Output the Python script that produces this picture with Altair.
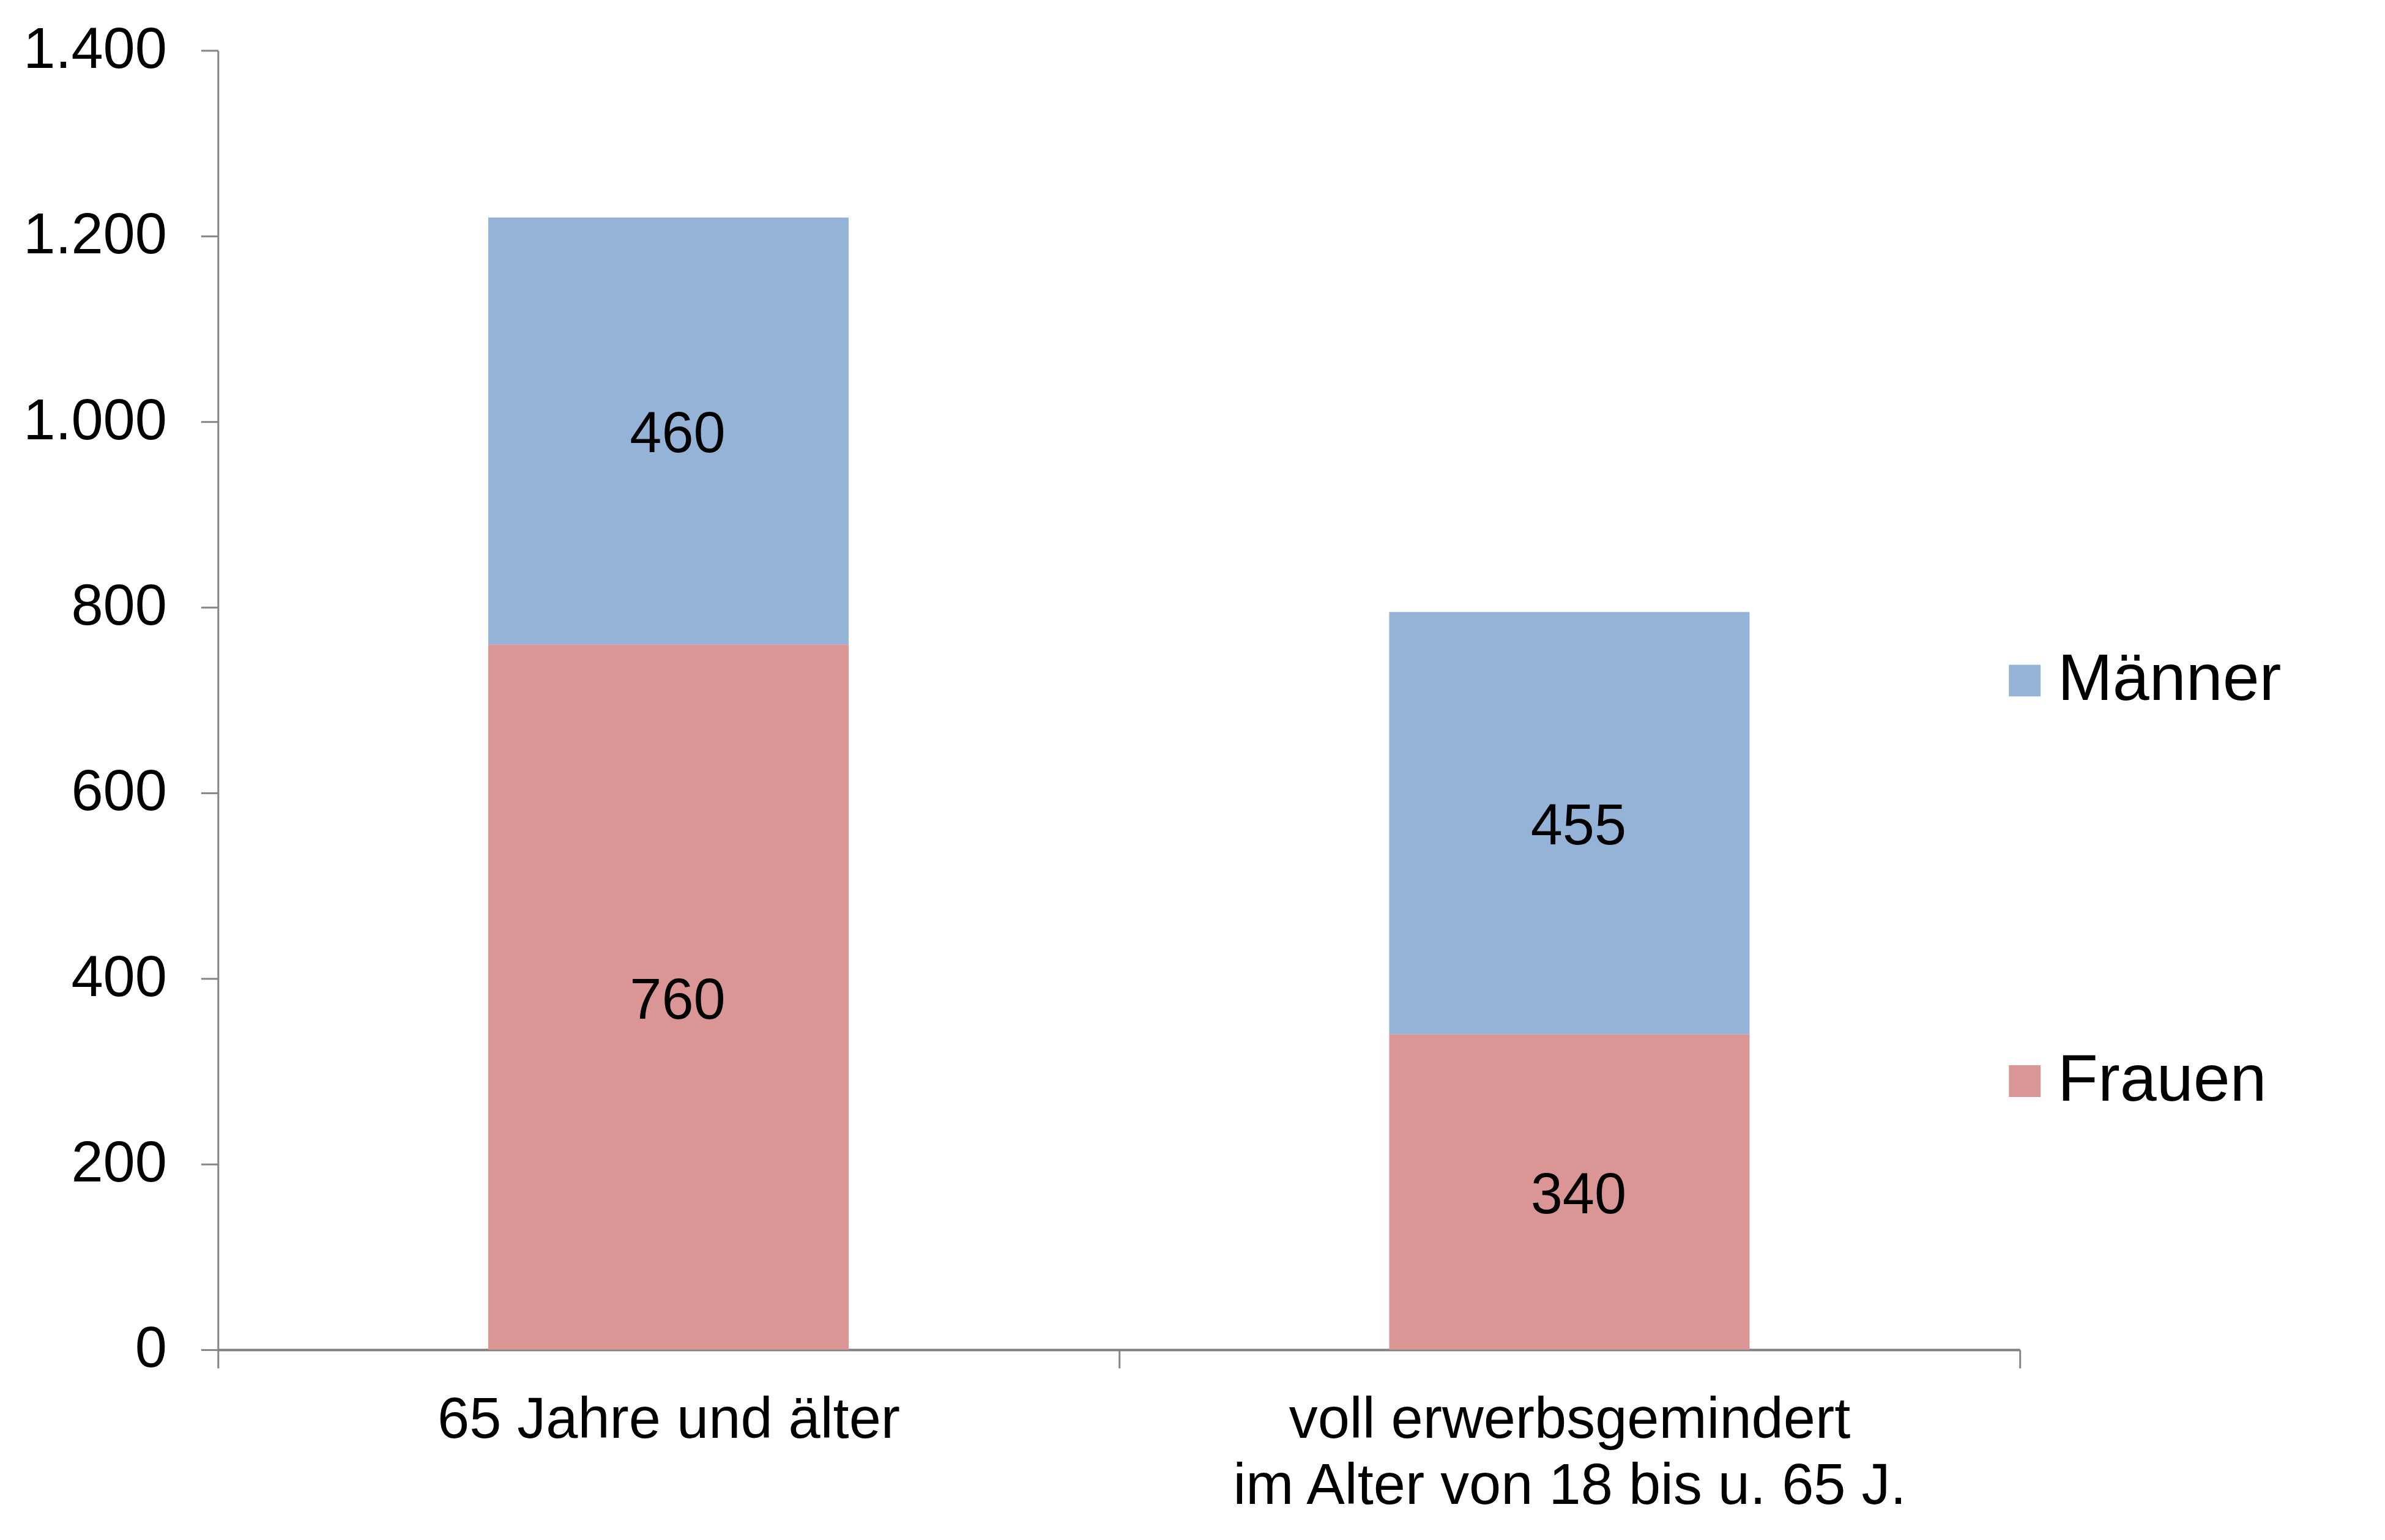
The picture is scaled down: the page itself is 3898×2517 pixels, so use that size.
import altair as alt
import pandas as pd

# ---- data ----
categories = ["65 Jahre und älter", "voll erwerbsgemindert|im Alter von 18 bis u. 65 J."]
frauen = [760, 340]
maenner = [460, 455]
series_order = ["Frauen", "Männer"]          # stacking order, bottom -> top
legend_order = ["Männer", "Frauen"]          # legend order, top -> bottom
legend_colors = ["#95B3D7", "#D99694"]
y_ticks = [0, 200, 400, 600, 800, 1000, 1200, 1400]

rows = []
for i, c in enumerate(categories):
    rows.append({"cat": c, "series": "Frauen", "value": frauen[i], "ord": 0})
    rows.append({"cat": c, "series": "Männer", "value": maenner[i], "ord": 1})
df = pd.DataFrame(rows)

FONT = "Liberation Sans"
GRAY = "#868686"
W, H = 2951, 2128

base = alt.Chart(df).transform_stack(
    stack="value", groupby=["cat"], as_=["y0", "y1"], sort=[alt.SortField("ord", order="ascending")]
).transform_calculate(mid="(datum.y0 + datum.y1) / 2")

x_enc = alt.X(
    "cat:N",
    sort=categories,
    title=None,
    scale=alt.Scale(paddingInner=0, paddingOuter=0),
    axis=alt.Axis(
        labelAngle=0,
        tickBand="extent",
        tickSize=30,
        tickWidth=3,
        tickColor=GRAY,
        domainColor="#808080",
        domainWidth=4,
        labelFont=FONT,
        labelFontSize=94,
        labelColor="black",
        labelPadding=40,
        labelBaseline="top",
        labelLineHeight=108,
        labelLimit=3000,
        labelExpr="split(datum.label, '|')",
        grid=False,
    ),
)

y_scale = alt.Scale(domain=[0, 1400], nice=False)

bars = base.mark_bar(width={"band": 0.4}).encode(
    x=x_enc,
    y=alt.Y(
        "y0:Q",
        scale=y_scale,
        title=None,
        axis=alt.Axis(
            values=y_ticks,
            labelExpr="replace(format(datum.value, ','), ',', '.')",
            tickSize=28,
            tickWidth=3,
            tickColor=GRAY,
            domainColor=GRAY,
            domainWidth=3,
            labelFont=FONT,
            labelFontSize=94,
            labelColor="black",
            labelPadding=56,
            labelLimit=1000,
            grid=False,
        ),
    ),
    y2="y1:Q",
    color=alt.Color(
        "series:N",
        scale=alt.Scale(domain=legend_order, range=legend_colors),
        legend=alt.Legend(
            title=None,
            orient="none",
            legendX=2905,
            legendY=978,
            symbolType="square",
            symbolSize=2700,
            symbolStrokeWidth=0,
            symbolOpacity=1,
            labelFont=FONT,
            labelFontSize=108,
            labelColor="black",
            labelOffset=0,
            labelLimit=1000,
            rowPadding=548,
            padding=0,
        ),
    ),
)

labels = base.mark_text(
    font=FONT, fontSize=94, color="black", baseline="middle", align="center", dx=15, dy=7
).encode(
    x=alt.X("cat:N", sort=categories),
    y=alt.Y("mid:Q", scale=y_scale),
    text=alt.Text("value:Q"),
)

chart = (
    alt.layer(bars, labels)
    .properties(
        width=W,
        height=H,
        autosize=alt.AutoSizeParams(type="none"),
        padding={"left": 349, "top": 72, "right": 590, "bottom": 309},
        background="white",
    )
    .configure_view(stroke=None)
)

chart.save("out.html", embed_options={"renderer": "svg", "actions": False})
